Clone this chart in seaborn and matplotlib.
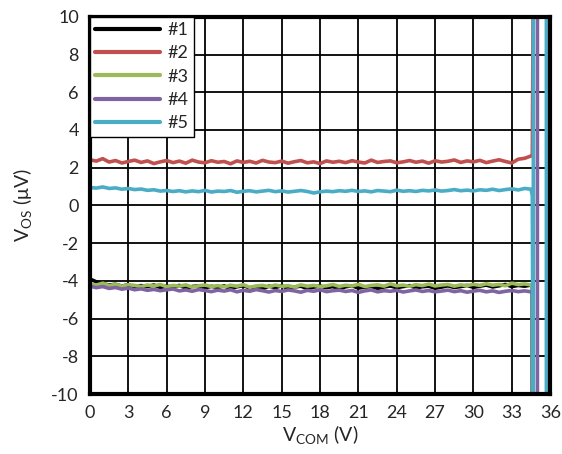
import numpy as np
import pandas as pd
import matplotlib
matplotlib.use('Agg')
import matplotlib.pyplot as plt
import seaborn as sns

# --- Data (VOS vs VCOM, five units) ---
vcom = np.arange(0, 34.51, 0.5)

vos_1 = [-3.90, -4.05, -4.15, -4.22, -4.18, -4.28, -4.20, -4.32, -4.25, -4.30,
         -4.22, -4.35, -4.28, -4.33, -4.24, -4.38, -4.30, -4.26, -4.36, -4.29,
         -4.34, -4.27, -4.40, -4.31, -4.25, -4.37, -4.30, -4.42, -4.28, -4.35,
         -4.26, -4.39, -4.32, -4.28, -4.41, -4.33, -4.27, -4.36, -4.30, -4.44,
         -4.31, -4.26, -4.38, -4.33, -4.29, -4.40, -4.32, -4.27, -4.36, -4.30,
         -4.25, -4.37, -4.31, -4.28, -4.39, -4.33, -4.26, -4.35, -4.30, -4.24,
         -4.34, -4.28, -4.22, -4.32, -4.26, -4.19, -4.30, -4.24, -4.28, -4.22]
vos_2 = [2.42, 2.35, 2.48, 2.30, 2.38, 2.25, 2.33, 2.40, 2.28, 2.36,
         2.22, 2.31, 2.38, 2.27, 2.35, 2.24, 2.40, 2.30, 2.26, 2.37,
         2.29, 2.33, 2.21, 2.36, 2.28, 2.34, 2.25, 2.39, 2.30, 2.27,
         2.35, 2.24, 2.32, 2.38, 2.26, 2.31, 2.22, 2.36, 2.29, 2.34,
         2.27, 2.37, 2.30, 2.25, 2.40, 2.28, 2.33, 2.36, 2.26, 2.31,
         2.38, 2.29, 2.35, 2.24, 2.37, 2.30, 2.34, 2.41, 2.28, 2.36,
         2.31, 2.39, 2.27, 2.35, 2.42, 2.33, 2.25, 2.45, 2.50, 2.62]
vos_3 = [-4.15, -4.22, -4.12, -4.25, -4.18, -4.28, -4.20, -4.24, -4.30, -4.22,
         -4.27, -4.19, -4.31, -4.24, -4.28, -4.21, -4.33, -4.26, -4.22, -4.30,
         -4.25, -4.32, -4.23, -4.28, -4.20, -4.34, -4.27, -4.24, -4.31, -4.22,
         -4.29, -4.25, -4.33, -4.21, -4.28, -4.24, -4.30, -4.26, -4.19, -4.29,
         -4.23, -4.27, -4.18, -4.30, -4.24, -4.21, -4.28, -4.16, -4.26, -4.22,
         -4.29, -4.20, -4.25, -4.17, -4.27, -4.22, -4.19, -4.28, -4.21, -4.25,
         -4.18, -4.24, -4.15, -4.23, -4.19, -4.26, -4.12, -4.20, -4.16, -4.22]
vos_4 = [-4.28, -4.36, -4.30, -4.40, -4.35, -4.44, -4.38, -4.47, -4.42, -4.50,
         -4.45, -4.52, -4.47, -4.43, -4.53, -4.48, -4.55, -4.46, -4.51, -4.57,
         -4.49, -4.54, -4.47, -4.58, -4.50, -4.55, -4.46, -4.52, -4.59, -4.51,
         -4.56, -4.48, -4.53, -4.60, -4.50, -4.55, -4.47, -4.57, -4.52, -4.49,
         -4.56, -4.51, -4.61, -4.53, -4.48, -4.58, -4.52, -4.55, -4.50, -4.59,
         -4.53, -4.48, -4.56, -4.51, -4.58, -4.54, -4.49, -4.57, -4.52, -4.60,
         -4.54, -4.50, -4.58, -4.53, -4.61, -4.55, -4.51, -4.57, -4.53, -4.58]
vos_5 = [0.95, 0.92, 0.98, 0.90, 0.93, 0.86, 0.90, 0.84, 0.87, 0.80,
         0.83, 0.76, 0.79, 0.74, 0.78, 0.72, 0.77, 0.73, 0.80, 0.71,
         0.76, 0.74, 0.79, 0.70, 0.75, 0.78, 0.72, 0.76, 0.80, 0.73,
         0.77, 0.71, 0.75, 0.79, 0.74, 0.66, 0.72, 0.76, 0.73, 0.78,
         0.75, 0.80, 0.74, 0.77, 0.72, 0.79, 0.76, 0.73, 0.81, 0.75,
         0.78, 0.74, 0.80, 0.77, 0.82, 0.76, 0.79, 0.84, 0.78, 0.81,
         0.77, 0.83, 0.80, 0.86, 0.79, 0.84, 0.88, 0.82, 0.90, 0.86]

# output saturates near the top of the common-mode range (off-scale values)
tail_x = {'#1': [34.6, 34.6],
          '#2': [34.6, 34.7],
          '#3': [34.58, 34.58],
          '#4': [34.6, 34.6, 35.0, 35.0],
          '#5': [34.6, 34.68, 34.68, 35.7, 35.7]}
tail_y = {'#1': [-4.20, -15],
          '#2': [2.65, 15],
          '#3': [-4.20, -15],
          '#4': [-4.55, -15, -15, 15],
          '#5': [0.50, -15, 15, 15, -15]}

labels = ['#1', '#2', '#3', '#4', '#5']
colors = ['#000000', '#C0504D', '#9BBB59', '#8064A2', '#4BACC6']

frames = []
for lab, vals in zip(labels, [vos_1, vos_2, vos_3, vos_4, vos_5]):
    x = list(vcom) + tail_x[lab]
    y = list(vals) + tail_y[lab]
    frames.append(pd.DataFrame({'VCOM': x, 'VOS': y, 'unit': lab}))
df = pd.concat(frames, ignore_index=True)

sns.set_style('white')
plt.rcParams['font.family'] = ['Lato', 'DejaVu Sans']
plt.rcParams['mathtext.fontset'] = 'custom'
plt.rcParams['mathtext.rm'] = 'Lato'
plt.rcParams['axes.unicode_minus'] = False

fig = plt.figure(figsize=(5.62, 4.54), dpi=100)
ax = fig.add_axes([0.160, 0.132, 0.819, 0.831])

sns.lineplot(data=df, x='VCOM', y='VOS', hue='unit', hue_order=labels,
             palette=colors, sort=False, estimator=None, linewidth=2.6, ax=ax)

ax.set_xlim(0, 36)
ax.set_ylim(-10, 10)
ax.set_xticks(np.arange(0, 37, 3))
ax.set_yticks(np.arange(-10, 11, 2))
ax.grid(True, color='black', linewidth=1.3)
ax.set_axisbelow(True)
for s in ax.spines.values():
    s.set_visible(True)
    s.set_color('black')
    s.set_linewidth(3)
ax.tick_params(length=0, labelsize=13, pad=8)

ax.set_xlabel(r'V$_{\mathrm{COM}}$ (V)', fontsize=14, labelpad=2)
ax.set_ylabel(r'V$_{\mathrm{OS}}$ ($\mathrm{\mu}$V)', fontsize=14, labelpad=12)

leg = ax.legend(loc='upper left', borderaxespad=0, frameon=True, fancybox=False,
                fontsize=13, handlelength=3.6, labelspacing=0.4,
                borderpad=0.3, handletextpad=0.4)
leg.get_frame().set_edgecolor('black')
leg.get_frame().set_linewidth(1.0)
leg.get_frame().set_alpha(1)
for h in leg.get_lines():
    h.set_linewidth(3)

plt.savefig('out.png', dpi=100)
